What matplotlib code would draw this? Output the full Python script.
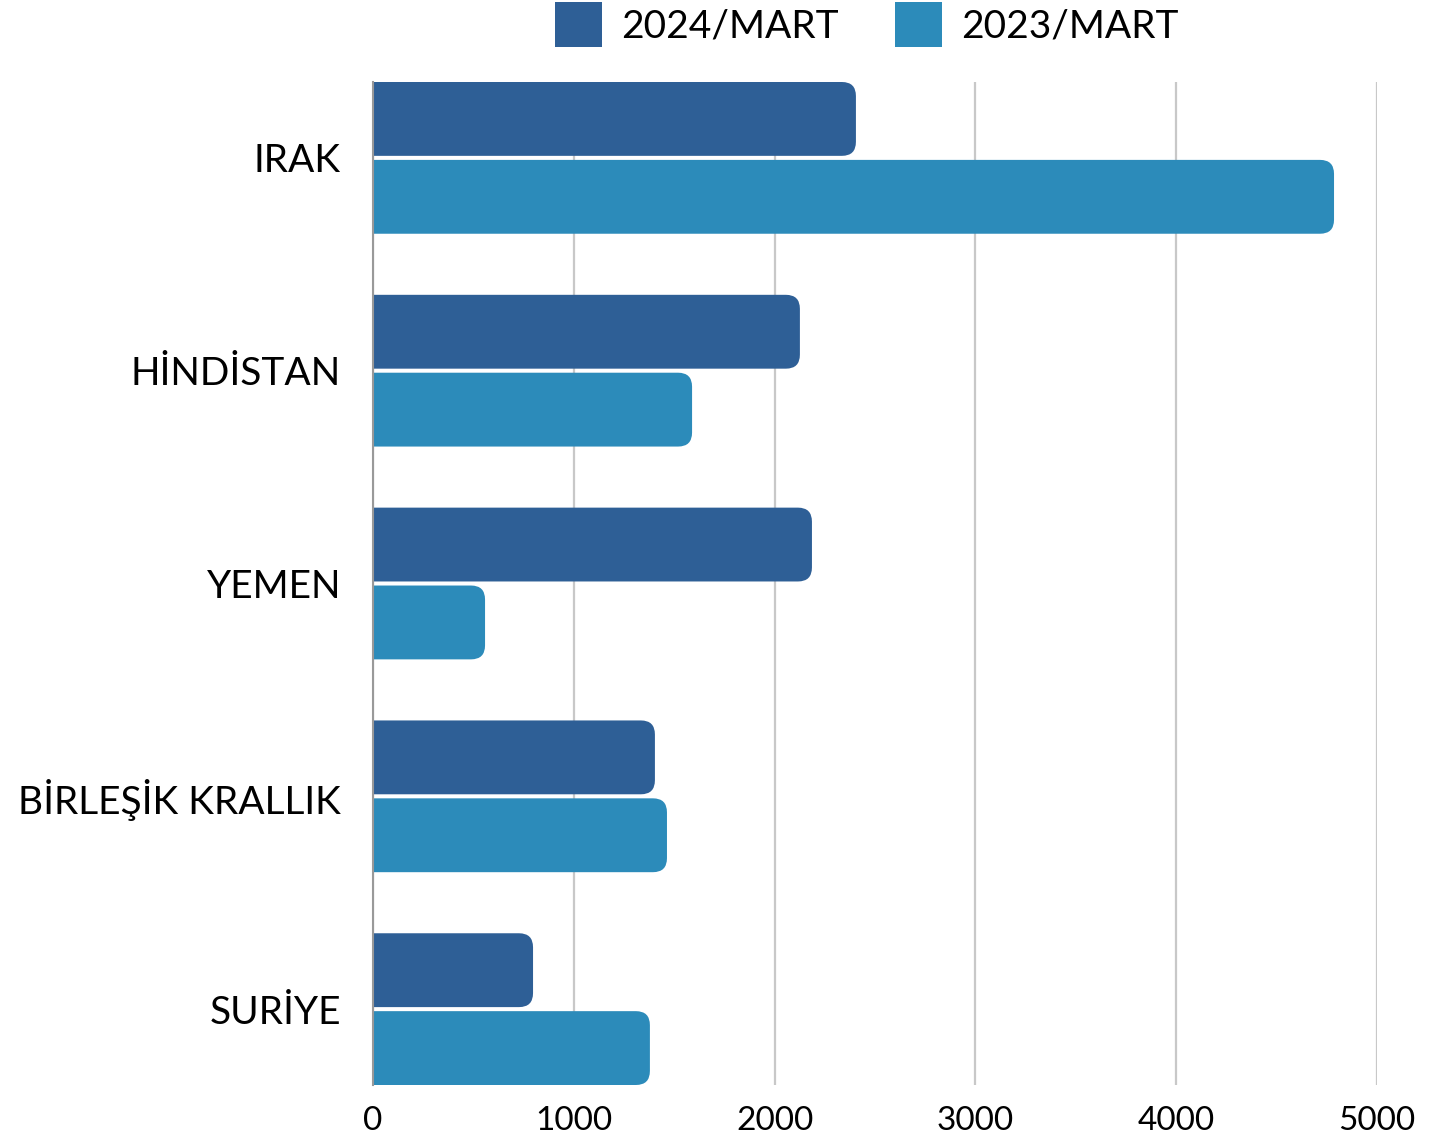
import matplotlib
matplotlib.use("Agg")
import matplotlib.pyplot as plt
from matplotlib.patches import FancyBboxPatch, Patch

plt.rcParams["font.family"] = ["Lato", "DejaVu Sans"]

countries = ["IRAK", "HİNDİSTAN", "YEMEN", "BİRLEŞİK KRALLIK", "SURİYE"]
values_2024 = [2405, 2126, 2186, 1404, 797]
values_2023 = [4786, 1589, 558, 1464, 1379]
series_labels = ["2024/MART", "2023/MART"]
colors = ["#2E5F96", "#2C8BBA"]
xticks = [0, 1000, 2000, 3000, 4000, 5000]

W, H = 1445, 1146
fig = plt.figure(figsize=(W / 100, H / 100), dpi=100)
ax = fig.add_axes([373 / W, 1 - 1085 / H, (1377 - 373) / W, (1085 - 82) / H])

bar_h = 0.347
offset = 0.183
ymin = -offset - bar_h / 2
ymax = len(countries) - 1 + offset + bar_h / 2
ax.set_xlim(0, 5000)
ax.set_ylim(ymax, ymin)

# pixel scale for rounded corners
x_per_px = 5000 / (1377 - 373)
y_per_px = (ymax - ymin) / (1085 - 82)
radius = 14 * x_per_px
aspect = y_per_px / x_per_px

for i in range(len(countries)):
    for vals, dy, col in ((values_2024, -offset, colors[0]), (values_2023, offset, colors[1])):
        y0 = i + dy - bar_h / 2
        # extend left past 0 so only the right corners show as rounded
        box = FancyBboxPatch((-radius * 2, y0), vals[i] + radius * 2, bar_h,
                             boxstyle=f"round,pad=0,rounding_size={radius}",
                             mutation_aspect=aspect, facecolor=col,
                             edgecolor="none", zorder=3)
        ax.add_patch(box)

ax.set_xticks(xticks)
ax.set_xticklabels([str(t) for t in xticks], fontsize=24)
ax.set_yticks(range(len(countries)))
ax.set_yticklabels(countries, fontsize=28)
ax.tick_params(axis="both", length=0)
ax.tick_params(axis="y", pad=23)
ax.tick_params(axis="x", pad=15)

ax.grid(axis="x", color="#c8c8c8", linewidth=1.6, zorder=0)
ax.set_axisbelow(True)
for s in ("top", "right", "bottom"):
    ax.spines[s].set_visible(False)
ax.spines["left"].set_color("#999999")
ax.spines["left"].set_linewidth(1.5)
ax.spines["left"].set_zorder(4)

handles = [Patch(facecolor=c, edgecolor="none") for c in colors]
fig.legend(handles, series_labels, loc="upper center", ncol=2, frameon=False,
           fontsize=28, bbox_to_anchor=(0.6, 1.012), handlelength=1.2,
           handleheight=1.42, columnspacing=1.45, handletextpad=0.5,
           borderaxespad=0.0)

fig.savefig("out.png", dpi=100)
